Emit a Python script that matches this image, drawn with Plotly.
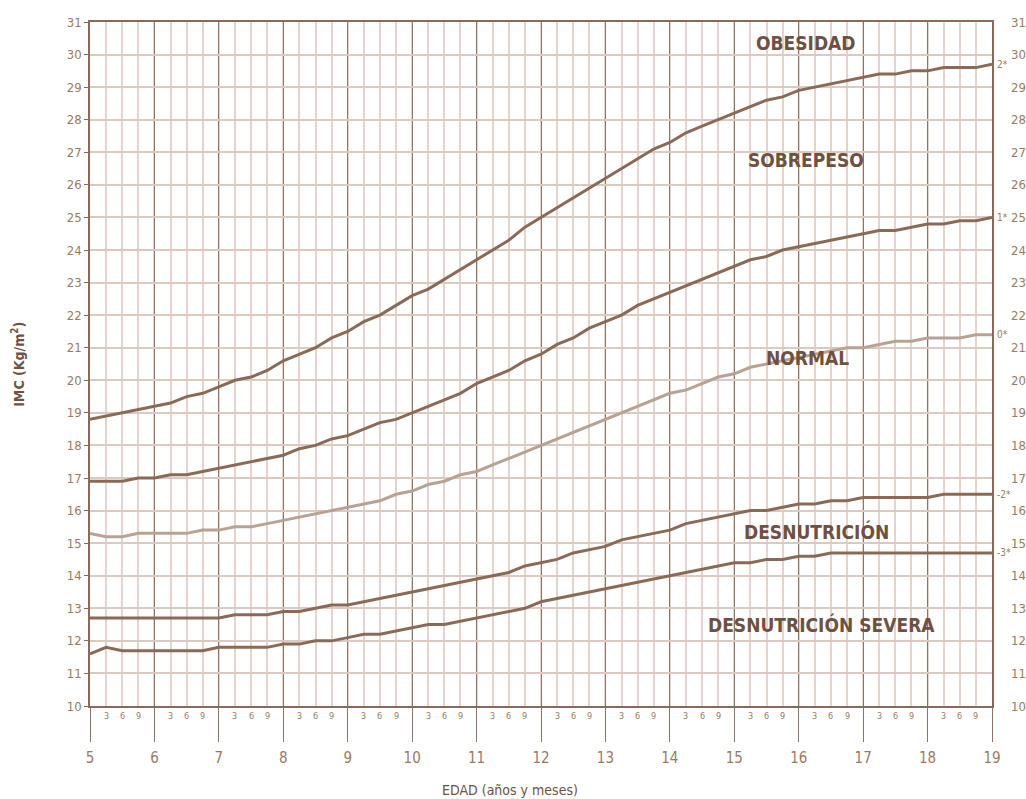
import plotly.graph_objects as go

# ---------------- data ----------------
ages = [5.0, 5.25, 5.5, 5.75, 6.0, 6.25, 6.5, 6.75, 7.0, 7.25, 7.5, 7.75,
        8.0, 8.25, 8.5, 8.75, 9.0, 9.25, 9.5, 9.75, 10.0, 10.25, 10.5, 10.75,
        11.0, 11.25, 11.5, 11.75, 12.0, 12.25, 12.5, 12.75, 13.0, 13.25, 13.5, 13.75,
        14.0, 14.25, 14.5, 14.75, 15.0, 15.25, 15.5, 15.75, 16.0, 16.25, 16.5, 16.75,
        17.0, 17.25, 17.5, 17.75, 18.0, 18.25, 18.5, 18.75, 19.0]

sd_plus2 = [18.8, 18.9, 19.0, 19.1, 19.2, 19.3, 19.5, 19.6, 19.8, 20.0, 20.1, 20.3,
            20.6, 20.8, 21.0, 21.3, 21.5, 21.8, 22.0, 22.3, 22.6, 22.8, 23.1, 23.4,
            23.7, 24.0, 24.3, 24.7, 25.0, 25.3, 25.6, 25.9, 26.2, 26.5, 26.8, 27.1,
            27.3, 27.6, 27.8, 28.0, 28.2, 28.4, 28.6, 28.7, 28.9, 29.0, 29.1, 29.2,
            29.3, 29.4, 29.4, 29.5, 29.5, 29.6, 29.6, 29.6, 29.7]

sd_plus1 = [16.9, 16.9, 16.9, 17.0, 17.0, 17.1, 17.1, 17.2, 17.3, 17.4, 17.5, 17.6,
            17.7, 17.9, 18.0, 18.2, 18.3, 18.5, 18.7, 18.8, 19.0, 19.2, 19.4, 19.6,
            19.9, 20.1, 20.3, 20.6, 20.8, 21.1, 21.3, 21.6, 21.8, 22.0, 22.3, 22.5,
            22.7, 22.9, 23.1, 23.3, 23.5, 23.7, 23.8, 24.0, 24.1, 24.2, 24.3, 24.4,
            24.5, 24.6, 24.6, 24.7, 24.8, 24.8, 24.9, 24.9, 25.0]

sd_zero = [15.3, 15.2, 15.2, 15.3, 15.3, 15.3, 15.3, 15.4, 15.4, 15.5, 15.5, 15.6,
           15.7, 15.8, 15.9, 16.0, 16.1, 16.2, 16.3, 16.5, 16.6, 16.8, 16.9, 17.1,
           17.2, 17.4, 17.6, 17.8, 18.0, 18.2, 18.4, 18.6, 18.8, 19.0, 19.2, 19.4,
           19.6, 19.7, 19.9, 20.1, 20.2, 20.4, 20.5, 20.6, 20.7, 20.8, 20.9, 21.0,
           21.0, 21.1, 21.2, 21.2, 21.3, 21.3, 21.3, 21.4, 21.4]

sd_minus2 = [12.7, 12.7, 12.7, 12.7, 12.7, 12.7, 12.7, 12.7, 12.7, 12.8, 12.8, 12.8,
             12.9, 12.9, 13.0, 13.1, 13.1, 13.2, 13.3, 13.4, 13.5, 13.6, 13.7, 13.8,
             13.9, 14.0, 14.1, 14.3, 14.4, 14.5, 14.7, 14.8, 14.9, 15.1, 15.2, 15.3,
             15.4, 15.6, 15.7, 15.8, 15.9, 16.0, 16.0, 16.1, 16.2, 16.2, 16.3, 16.3,
             16.4, 16.4, 16.4, 16.4, 16.4, 16.5, 16.5, 16.5, 16.5]

sd_minus3 = [11.6, 11.8, 11.7, 11.7, 11.7, 11.7, 11.7, 11.7, 11.8, 11.8, 11.8, 11.8,
             11.9, 11.9, 12.0, 12.0, 12.1, 12.2, 12.2, 12.3, 12.4, 12.5, 12.5, 12.6,
             12.7, 12.8, 12.9, 13.0, 13.2, 13.3, 13.4, 13.5, 13.6, 13.7, 13.8, 13.9,
             14.0, 14.1, 14.2, 14.3, 14.4, 14.4, 14.5, 14.5, 14.6, 14.6, 14.7, 14.7,
             14.7, 14.7, 14.7, 14.7, 14.7, 14.7, 14.7, 14.7, 14.7]

curve_labels = ["2*", "1*", "0*", "-2*", "-3*"]

years = [5, 6, 7, 8, 9, 10, 11, 12, 13, 14, 15, 16, 17, 18, 19]
month_labels = ["3", "6", "9"]
imc_ticks = list(range(10, 32))

zone_names = ["OBESIDAD", "SOBREPESO", "NORMAL", "DESNUTRICIÓN", "DESNUTRICIÓN SEVERA"]
zone_x = [16.11, 16.11, 16.13, 16.27, 16.36]
zone_y = [30.36, 26.76, 20.68, 15.37, 12.49]

# ---------------- style ----------------
DARK = "#8a6a56"
LIGHT_CURVE = "#b8a294"
TXT = "#6e5140"
TICK_TXT = "#9a7a62"
GRID_MINOR = "#e3d4cd"
GRID_H = "#dcc9c1"
GRID_MAJOR = "#8f7464"
FONT = "DejaVu Sans Condensed, Liberation Sans Narrow, Open Sans, sans-serif"

fig = go.Figure()

series = [sd_plus2, sd_plus1, sd_zero, sd_minus2, sd_minus3]
colors = [DARK, DARK, LIGHT_CURVE, DARK, DARK]
for vals, col, lab in zip(series, colors, curve_labels):
    fig.add_trace(go.Scatter(x=ages, y=vals, mode="lines",
                             line=dict(color=col, width=3),
                             name=lab, showlegend=False, hoverinfo="x+y"))
    fig.add_annotation(x=ages[-1], y=vals[-1], text=lab, showarrow=False,
                       xanchor="left", yanchor="middle", xshift=3,
                       font=dict(family=FONT, size=10, color=TICK_TXT))

# invisible trace to activate right axis
fig.add_trace(go.Scatter(x=[ages[0]], y=[imc_ticks[0]], yaxis="y2", mode="markers",
                         marker=dict(opacity=0, size=1), showlegend=False,
                         hoverinfo="skip"))

for name, zx, zy in zip(zone_names, zone_x, zone_y):
    fig.add_annotation(x=zx, y=zy, text="<b>" + name + "</b>", showarrow=False,
                       xanchor="center", yanchor="middle",
                       font=dict(family=FONT, size=19, color=TXT))

# month labels below axis
for yr in years[:-1]:
    for i, m in enumerate(month_labels):
        fig.add_annotation(x=yr + (i + 1) * 0.25, y=0, yref="paper", text=m,
                           showarrow=False, yanchor="top", yshift=-3,
                           font=dict(family=FONT, size=9, color=TICK_TXT))

fig.add_annotation(x=-0.08, y=0.5, xref="paper", yref="paper",
                   text="<b>IMC (Kg/m<sup>2</sup>)</b>", textangle=-90,
                   xanchor="center", yanchor="middle",
                   showarrow=False, font=dict(family=FONT, size=14, color=TXT))
fig.add_annotation(x=0.466, y=-0.123, xref="paper", yref="paper",
                   text="EDAD (años y meses)", showarrow=False,
                   xanchor="center", yanchor="middle",
                   font=dict(family=FONT, size=14, color=TXT))

fig.update_layout(
    width=1026, height=799,
    margin=dict(l=90, r=34, t=22, b=93, autoexpand=False),
    plot_bgcolor="white", paper_bgcolor="white",
    font=dict(family=FONT, color=TICK_TXT),
    xaxis=dict(range=[5, 19], tickvals=years, ticktext=[str(y) for y in years],
               showgrid=True, gridcolor=GRID_MAJOR, gridwidth=1.3,
               minor=dict(dtick=0.25, tick0=5, showgrid=True, gridcolor=GRID_MINOR,
                          gridwidth=2, ticks=""),
               ticks="outside", ticklen=34, tickwidth=1.3, tickcolor=GRID_MAJOR,
               ticklabelstandoff=3, automargin=False,
               tickfont=dict(family=FONT, size=15, color=TICK_TXT),
               showline=True, linecolor=DARK, linewidth=2, mirror=True,
               zeroline=False, fixedrange=True),
    yaxis=dict(range=[10, 31], tickvals=imc_ticks, showgrid=True,
               gridcolor=GRID_H, gridwidth=2, automargin=False,
               ticks="outside", ticklen=4, tickcolor=DARK,
               tickfont=dict(family=FONT, size=13, color=TICK_TXT),
               showline=True, linecolor=DARK, linewidth=1.5, mirror=True,
               zeroline=False, fixedrange=True),
    yaxis2=dict(range=[10, 31], tickvals=imc_ticks, overlaying="y", side="right",
                showgrid=False, zeroline=False, showline=False, ticks="",
                ticklabelstandoff=18, automargin=False,
                tickfont=dict(family=FONT, size=13, color=TICK_TXT),
                fixedrange=True),
)

fig.write_html("out.html", config={"displayModeBar": False},
               post_script="document.body.style.margin='0';document.body.style.overflow='hidden';")
